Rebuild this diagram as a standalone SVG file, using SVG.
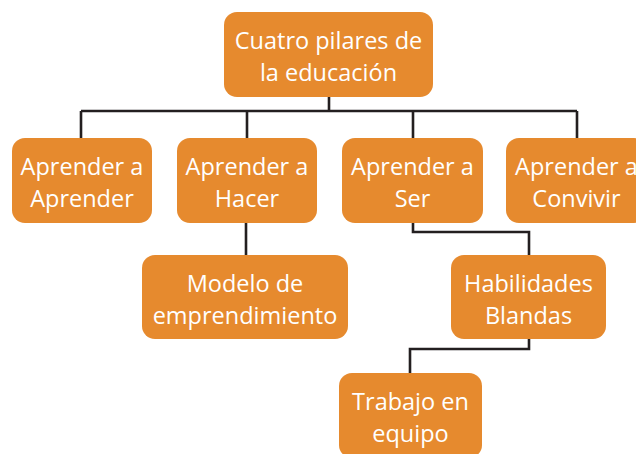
<svg xmlns="http://www.w3.org/2000/svg" width="636" height="454" viewBox="0 0 636 454">
<style>
.n{fill:#E68A2E}
.t{font-family:"Open Sans","Noto Sans",sans-serif;font-size:23.5px;fill:#ffffff;text-anchor:middle}
.c{fill:none;stroke:#231F20;stroke-width:2.6}
</style>
<rect width="636" height="454" fill="#ffffff"/>
<g id="connectors">
<path class="c" d="M329 97V111M81 111H577M81 111V138M247 111V138M413 111V138M577 111V138"/>
<path class="c" d="M246 223V255"/>
<path class="c" d="M413 223V232H529V255"/>
<path class="c" d="M529 339V349H410V373"/>
</g>
<g id="root"><rect class="n" x="224" y="12" width="209" height="85" rx="13"/><text class="t" x="328.5" y="49">Cuatro pilares de</text><text class="t" x="328.5" y="81">la educación</text></g>
<g id="aprender"><rect class="n" x="12" y="138" width="140" height="85" rx="13"/><text class="t" x="82" y="175">Aprender a</text><text class="t" x="82" y="207">Aprender</text></g>
<g id="hacer"><rect class="n" x="177" y="138" width="140" height="85" rx="13"/><text class="t" x="247" y="175">Aprender a</text><text class="t" x="247" y="207">Hacer</text></g>
<g id="ser"><rect class="n" x="342" y="138" width="141" height="85" rx="13"/><text class="t" x="412.5" y="175">Aprender a</text><text class="t" x="412.5" y="207">Ser</text></g>
<g id="convivir"><rect class="n" x="506" y="138" width="141" height="85" rx="13"/><text class="t" x="576.5" y="175">Aprender a</text><text class="t" x="576.5" y="207">Convivir</text></g>
<g id="modelo"><rect class="n" x="142" y="255" width="206" height="84" rx="13"/><text class="t" x="245" y="292">Modelo de</text><text class="t" x="245" y="324">emprendimiento</text></g>
<g id="habilidades"><rect class="n" x="451" y="255" width="155" height="84" rx="13"/><text class="t" x="528.5" y="292">Habilidades</text><text class="t" x="528.5" y="324">Blandas</text></g>
<g id="trabajo"><rect class="n" x="339" y="373" width="143" height="85" rx="13"/><text class="t" x="410.5" y="410">Trabajo en</text><text class="t" x="410.5" y="442">equipo</text></g>
</svg>
